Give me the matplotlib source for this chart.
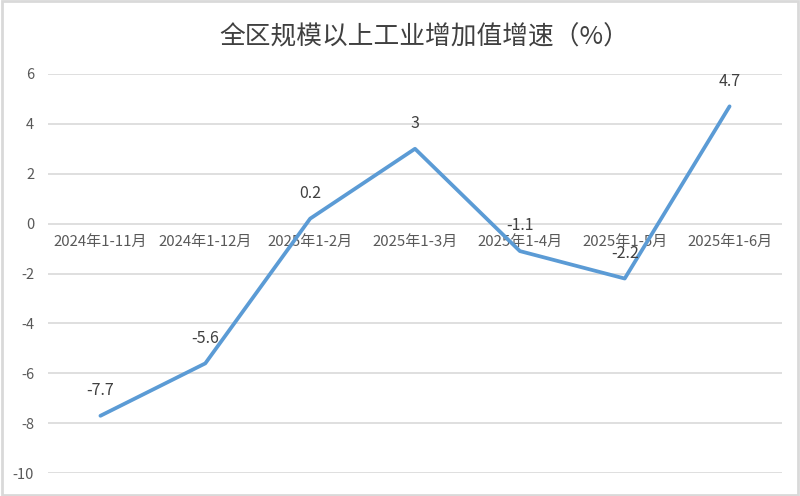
import matplotlib.pyplot as plt
from matplotlib.patches import Rectangle

plt.rcParams['font.family'] = ['Noto Sans CJK SC', 'DejaVu Sans']

periods = ["2024年1-11月", "2024年1-12月", "2025年1-2月", "2025年1-3月",
           "2025年1-4月", "2025年1-5月", "2025年1-6月"]
growth = [-7.7, -5.6, 0.2, 3, -1.1, -2.2, 4.7]
yticks = [-10, -8, -6, -4, -2, 0, 2, 4, 6]

fig = plt.figure(figsize=(8, 4.96), dpi=100)
ax = fig.add_axes([0.06, 0.046, 0.9175, 0.805])

# light frame round the whole picture
fig.patches.append(Rectangle((0.002, 0.002), 0.996, 0.996, transform=fig.transFigure,
                             fill=False, edgecolor='#D9D9D9', linewidth=2))

x = list(range(len(periods)))
ax.plot(x, growth, color='#5B9BD5', linewidth=2.7, solid_capstyle='round', zorder=3)

for xi, v in zip(x, growth):
    ax.annotate(f"{v:g}", (xi, v), xytext=(0, 12), textcoords='offset points',
                ha='center', va='bottom', fontsize=11.5, color='#404040', zorder=4)

ax.set_xlim(-0.5, len(periods) - 0.5)
ax.set_ylim(-10, 6)
ax.set_yticks(yticks)
ax.set_yticklabels([str(t) for t in yticks])
ax.grid(axis='y', color='#D9D9D9', linewidth=1.2)
ax.set_axisbelow(True)

for s in ax.spines.values():
    s.set_visible(False)
ax.spines['bottom'].set_position(('data', 0))

ax.set_xticks(x)
ax.set_xticklabels(periods)
ax.tick_params(axis='x', length=0, pad=8, labelsize=10.8, labelcolor='#595959')
ax.tick_params(axis='y', length=0, pad=10, labelsize=10.5, labelcolor='#595959')

fig.text(0.53, 0.925, "全区规模以上工业增加值增速（%）", ha='center', va='center',
         fontsize=18.5, color='#404040')

fig.savefig('out.png', dpi=100)
